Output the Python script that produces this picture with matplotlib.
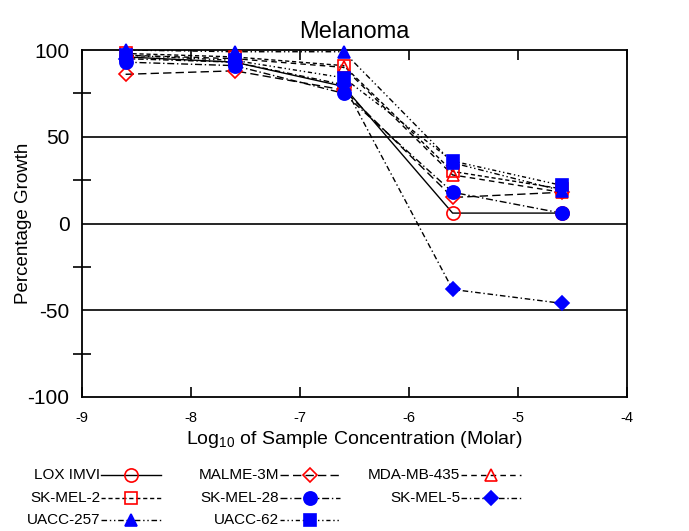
import matplotlib
matplotlib.use("Agg")
import matplotlib.pyplot as plt
from matplotlib.lines import Line2D
from matplotlib.ticker import MultipleLocator

plt.rcParams['font.family'] = ['Liberation Sans', 'DejaVu Sans']
plt.rcParams['axes.unicode_minus'] = False

# log10 concentration (molar)
conc = [-8.6, -7.6, -6.6, -5.6, -4.6]

lox_imvi = [96, 93, 79, 6, 6]
malme_3m = [86, 88, 77, 15, 18]
mda_mb_435 = [97, 95, 90, 28, 18]
sk_mel_2 = [98, 96, 91, 30, 20]
sk_mel_28 = [93, 91, 75, 18, 6]
sk_mel_5 = [95, 93, 80, -38, -46]
uacc_257 = [100, 99, 99, 35, 19]
uacc_62 = [97, 94, 84, 36, 22]

names = ['LOX IMVI', 'MALME-3M', 'MDA-MB-435',
         'SK-MEL-2', 'SK-MEL-28', 'SK-MEL-5',
         'UACC-257', 'UACC-62']
series = [lox_imvi, malme_3m, mda_mb_435, sk_mel_2, sk_mel_28,
          sk_mel_5, uacc_257, uacc_62]

# marker, face colour, edge colour, dash pattern
styles = [
    ('o', 'none', 'red', '-'),
    ('D', 'none', 'red', (0, (6, 3))),
    ('^', 'none', 'red', (0, (4, 3))),
    ('s', 'none', 'red', (0, (3, 2))),
    ('o', 'blue', 'blue', (0, (5, 2, 1, 2))),
    ('D', 'blue', 'blue', (0, (4, 2, 1, 2))),
    ('^', 'blue', 'blue', (0, (4, 2, 1, 2, 1, 2))),
    ('s', 'blue', 'blue', (0, (3, 2, 1, 2, 1, 2))),
]
msizes = {'o': 9.5, 'D': 7, '^': 9, 's': 9}

fig = plt.figure(figsize=(6.89, 5.31), dpi=100)
ax = fig.add_axes([82 / 689, 1 - 397 / 531, 545 / 689, 347 / 531])

for vals, (m, fc, ec, ls) in zip(series, styles):
    ax.plot(conc, vals, color='black', lw=1.0, ls=ls, zorder=2)
    ax.plot(conc, vals, ls='none', marker=m, ms=msizes[m],
            mfc=fc, mec=ec, mew=1.2, zorder=3, clip_on=False)

for yv in [50, 0, -50]:
    ax.axhline(yv, color='black', lw=1.2, zorder=1)

ax.set_xlim(-9, -4)
ax.set_ylim(-100, 100)
ax.set_xticks([-9, -8, -7, -6, -5, -4])
ax.set_yticks([-100, -50, 0, 50, 100])
ax.yaxis.set_minor_locator(MultipleLocator(25))
ax.tick_params(axis='x', which='major', direction='in', top=True,
               length=7, width=1.2, labelsize=10.5, pad=10)
ax.tick_params(axis='y', which='major', length=0, labelsize=15, pad=9)
ax.tick_params(axis='y', which='minor', direction='inout',
               length=13, width=1.2)
for sp in ax.spines.values():
    sp.set_linewidth(1.3)

ax.set_title('Melanoma', fontsize=17, pad=9)
ax.set_ylabel('Percentage Growth', fontsize=13.5, labelpad=-3)
ax.set_xlabel(r'Log$_{\mathregular{10}}$ of Sample Concentration (Molar)',
              fontsize=14, labelpad=3)

# legend: label on the left, line sample with marker on the right
col_ends = [100, 279, 460]
row_ys = [475, 498, 520]
for i, (name, (m, fc, ec, ls)) in enumerate(zip(names, styles)):
    x_end = col_ends[i % 3]
    y = row_ys[i // 3]
    fy = 1 - y / 531
    fig.text(x_end / 689, fy, name, ha='right', va='center', fontsize=11)
    fig.add_artist(Line2D([(x_end + 1) / 689, (x_end + 61) / 689], [fy, fy],
                          color='black', lw=1.0, ls=ls,
                          transform=fig.transFigure))
    fig.add_artist(Line2D([(x_end + 31) / 689], [fy], ls='none', marker=m,
                          ms=msizes[m], mfc=fc, mec=ec, mew=1.2,
                          transform=fig.transFigure))

fig.savefig('out.png', dpi=100)
